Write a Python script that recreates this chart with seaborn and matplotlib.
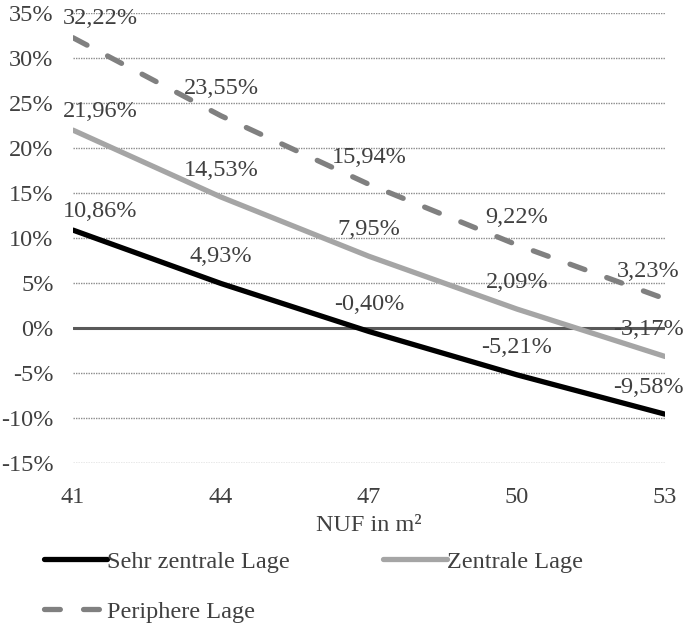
import numpy as np
import pandas as pd
import matplotlib
matplotlib.use("Agg")
import matplotlib.pyplot as plt
import seaborn as sns
from matplotlib.lines import Line2D

# Data
nuf = [41, 44, 47, 50, 53]
sehr_zentral = [10.86, 4.93, -0.40, -5.21, -9.58]
zentral = [21.96, 14.53, 7.95, 2.09, -3.17]
peripher = [32.22, 23.55, 15.94, 9.22, 3.23]
series_names = ["Sehr zentrale Lage", "Zentrale Lage", "Periphere Lage"]
y_ticks = [-15, -10, -5, 0, 5, 10, 15, 20, 25, 30, 35]

df = pd.DataFrame({
    "NUF": nuf * 3,
    "Wert": sehr_zentral + zentral + peripher,
    "Lage": [series_names[0]] * 5 + [series_names[1]] * 5 + [series_names[2]] * 5,
})

sns.set_style("white")
plt.rcParams['font.family'] = ['Liberation Serif', 'DejaVu Serif']
text_col = "#404040"
fs = 17.5

palette = {series_names[0]: "#000000",
           series_names[1]: "#a5a5a5",
           series_names[2]: "#808080"}
dash_pat = (3.0, 4.4)
dashes = {series_names[0]: "", series_names[1]: "", series_names[2]: dash_pat}

fig = plt.figure(figsize=(6.85, 6.28), dpi=100)
ax = fig.add_axes([73 / 685, 1 - 463 / 628, (665 - 73) / 685, (463 - 12.7) / 628])

# gridlines + zero line
for t in y_ticks:
    if t == 0:
        continue
    ax.axhline(t, color="#8c8c8c", lw=1.0, ls=(0, (1, 0.8)), zorder=0)
ax.axhline(0, color="#595959", lw=2.2, zorder=1)

sns.lineplot(data=df, x="NUF", y="Wert", hue="Lage", style="Lage",
             palette=palette, dashes=dashes, linewidth=3.8,
             legend=False, ax=ax, zorder=3)
for ln in ax.lines[-3:]:
    ln.set_solid_capstyle("round")
    ln.set_dash_capstyle("round")

ax.set_xlim(41, 53)
ax.set_ylim(-15, 35)
ax.set_xticks(nuf)
ax.set_xticklabels([str(v) for v in nuf])
ax.set_yticks(y_ticks)
ax.set_yticklabels([f"{t}%" for t in y_ticks])
ax.tick_params(axis="both", length=0, labelsize=fs, colors=text_col)
ax.tick_params(axis="y", pad=14)
ax.tick_params(axis="x", pad=17)
ax.set_xlabel("NUF in m²", fontsize=fs, color=text_col, labelpad=5)
ax.set_ylabel("")
sns.despine(ax=ax, left=True, bottom=True)

# data labels
for vals in [sehr_zentral, zentral, peripher]:
    for i, (x, v) in enumerate(zip(nuf, vals)):
        dx, dy = 0, 27
        if i == 0:
            dx, dy = 27, 19
        elif i == len(nuf) - 1:
            dx = -17
        ax.annotate(f"{v:.2f}%".replace(".", ","), (x, v),
                    xytext=(dx, dy), textcoords="offset pixels",
                    ha="center", va="center", fontsize=fs,
                    color=text_col, annotation_clip=False, zorder=5)

lines = ax.lines[-3:]
leg_handles = []
for h in lines:
    lh = Line2D([], [], color=h.get_color(), lw=3.8,
                solid_capstyle="round", dash_capstyle="round")
    leg_handles.append(lh)
leg_handles[2].set_dashes(dash_pat)
# row-major order: Sehr | Zentrale, then Periphere
order = [0, 2, 1]
fig.legend([leg_handles[i] for i in order], [series_names[i] for i in order],
           loc="upper left", bbox_to_anchor=(22 / 685, 1 - 529 / 628),
           ncol=2, frameon=False, fontsize=fs, labelcolor=text_col,
           handlelength=2.6, handletextpad=0.0, columnspacing=3.85,
           labelspacing=1.15)

fig.savefig("out.png", dpi=100)
